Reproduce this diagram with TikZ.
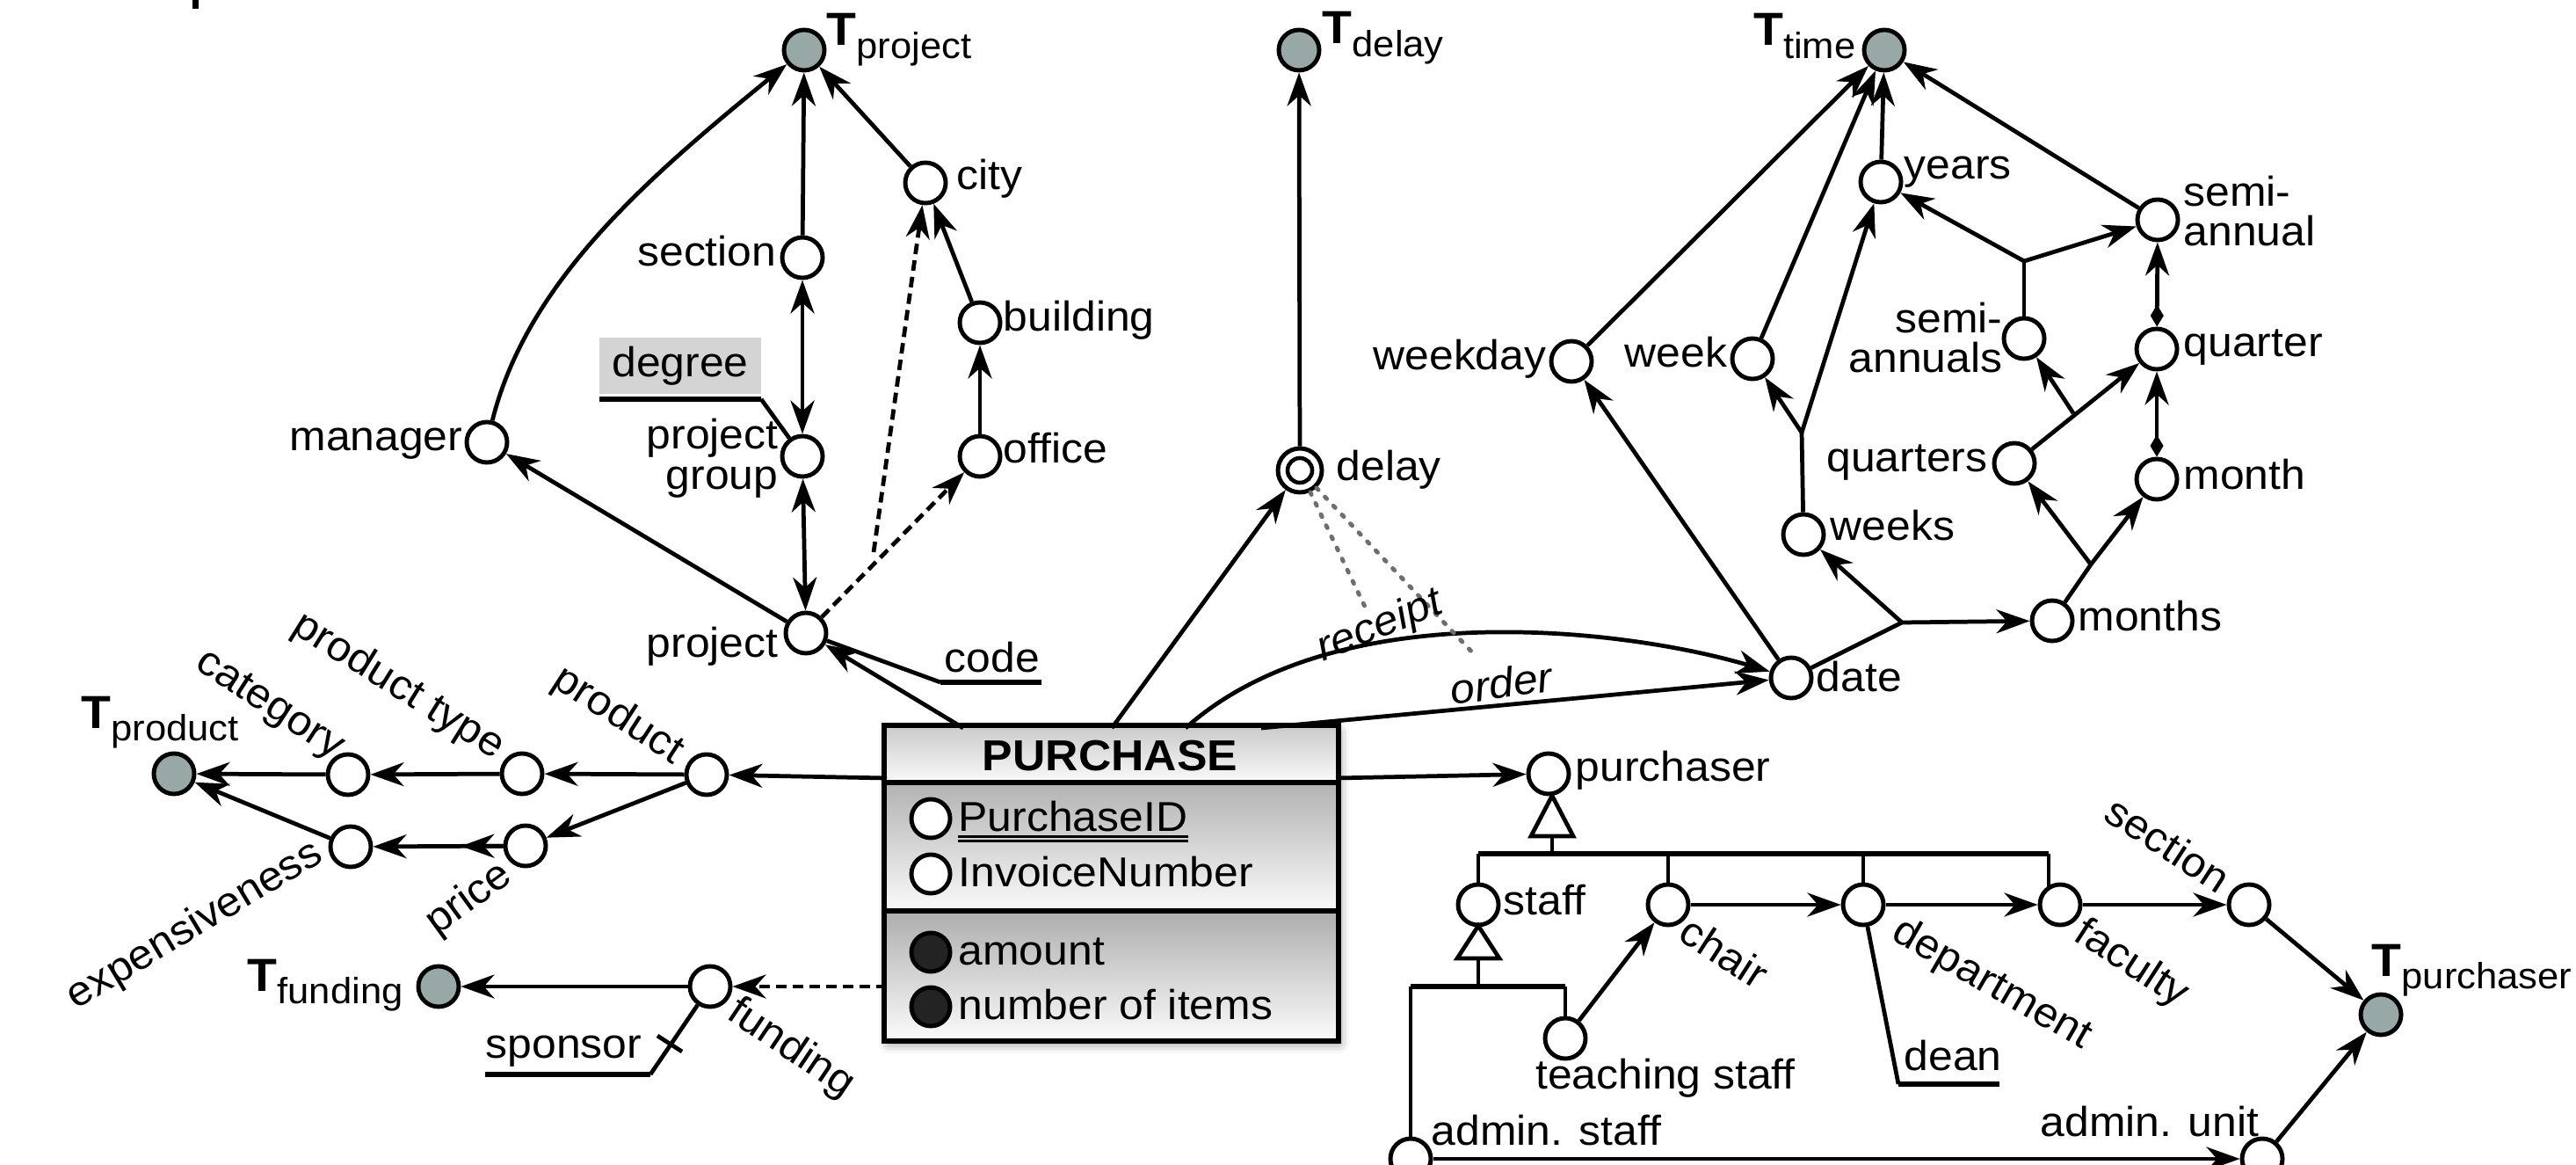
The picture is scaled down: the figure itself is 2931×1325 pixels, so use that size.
\documentclass[tikz,border=0pt]{standalone}
\usepackage{fontspec}
\setmainfont{Liberation Sans}[FakeStretch=1.05]
\usetikzlibrary{arrows.meta,shadows.blur,calc}
\definecolor{tgray}{RGB}{152,168,166}
\definecolor{dkfill}{RGB}{35,35,35}
\definecolor{dotgray}{RGB}{110,110,110}
\newcommand{\myfs}{\fontsize{13.5}{13}\selectfont}
\newcommand{\Tsub}[1]{{\fontsize{15}{15}\selectfont\bfseries T}{\fontsize{11.8}{13}\selectfont\raisebox{-0.35em}{#1}}}
\begin{document}
\begin{tikzpicture}[x=0.01cm,y=-0.01cm,
  font=\myfs,
  att/.style={circle,draw,line width=1.4pt,minimum size=0.46cm,inner sep=0pt,fill=white},
  tnode/.style={att,fill=tgray},
  ln/.style={line width=1.35pt},
  arr/.style={ln,-{Stealth[length=0.38cm,width=0.27cm,inset=0.12cm]}},
  barr/.style={ln,{Stealth[length=0.38cm,width=0.27cm,inset=0.12cm]}-{Stealth[length=0.38cm,width=0.27cm,inset=0.12cm]}},
  dsh/.style={arr,dash pattern=on 0.12cm off 0.07cm},
  dmd/.style={ln,{Diamond[length=0.25cm,width=0.15cm]}-{Stealth[length=0.38cm,width=0.27cm,inset=0.12cm]}},
  dotln/.style={line width=1.4pt,dotgray,line cap=round,dash pattern=on 0.03cm off 0.11cm},
  lbl/.style={inner sep=0pt},
  thk/.style={line width=1.8pt},
]
\useasboundingbox (0,0) rectangle (2931,1325);
\clip (0,0) rectangle (2931,1325);
\fill (219,0) rectangle (226,10);

% ---------------- PURCHASE box ----------------
\node[draw,line width=1.7pt,minimum width=5.11cm,minimum height=3.53cm,inner sep=0pt,fill=white,
  blur shadow={shadow xshift=0.03cm,shadow yshift=-0.05cm,shadow blur radius=0.12cm,shadow opacity=50}] (P) at (1264.5,1004.5) {};
\shade[top color=black!20,bottom color=black!2] (1009,828) rectangle (1520,890);
\shade[top color=black!30,bottom color=black!2] (1009,890) rectangle (1520,1036);
\shade[top color=black!32,bottom color=black!2] (1009,1036) rectangle (1520,1181);
\draw[line width=1.7pt] (P.north west) rectangle (P.south east);
\draw[line width=1.7pt] (1009,890) -- (1520,890);
\draw[line width=1.7pt] (1009,1036) -- (1520,1036);
\node[lbl,font=\fontsize{14}{15}\selectfont\bfseries] (Ptitle) at (1263,860) {PURCHASE};
\node[att,minimum size=0.44cm] (cPid) at (1059,931) {};
\node[lbl,anchor=mid west] (tPid) at (1090,936) {PurchaseID};
\draw[line width=0.7pt] ($(tPid.base west)+(0,6)$) -- ($(tPid.base east)+(0,6)$);
\draw[line width=0.7pt] ($(tPid.base west)+(0,11)$) -- ($(tPid.base east)+(0,11)$);
\node[att,minimum size=0.44cm] (cInv) at (1059,994) {};
\node[lbl,anchor=mid west] (tInv) at (1090,999) {InvoiceNumber};
\node[att,minimum size=0.44cm,fill=dkfill] (cAmt) at (1059,1083) {};
\node[lbl,anchor=mid west] (tAmt) at (1090,1088) {amount};
\node[att,minimum size=0.44cm,fill=dkfill] (cNum) at (1059,1145) {};
\node[lbl,anchor=mid west] (tNum) at (1090,1150) {number of items};
\coordinate (Pt1) at (1096,828);
\coordinate (Pt2) at (1265,828);
\coordinate (Pt3) at (1349,828);
\coordinate (Pt4) at (1435,828);
\coordinate (Pl1) at (1009,885);
\coordinate (Pl2) at (1009,1122);
\coordinate (Pr1) at (1520,885);

% ---------------- project hierarchy ----------------
\node[tnode] (Tproj) at (915,57) {};
\node[att] (sect) at (913,293) {};
\node[att] (pgrp) at (913,519) {};
\node[att] (mgr) at (554,503) {};
\node[att] (proj) at (917,720) {};
\node[att] (city) at (1053,208) {};
\node[att] (bldg) at (1115,367) {};
\node[att] (office) at (1115,519) {};
\node[lbl,anchor=base west] (lTproj) at (940,52) {\Tsub{project}};
\node[lbl,anchor=mid east] (lsect) at (884,293) {section};
\node[lbl,anchor=east,align=right] (lpgrp) at (886,521) {project\\group};
\node[lbl,anchor=mid east] (lmgr) at (527,503) {manager};
\node[lbl,anchor=mid east] (lproj) at (886,738) {project};
\node[lbl,anchor=mid west] (lcity) at (1088,206) {city};
\node[lbl,anchor=mid west] (lbldg) at (1141,367) {building};
\node[lbl,anchor=mid west] (loffice) at (1141,517) {office};
\node[lbl,fill=black!17,minimum width=1.84cm,minimum height=0.63cm] (deg) at (774,416) {degree};
\coordinate (degL) at (682,454);
\coordinate (degR) at (866,454);
\draw[thk] (degL) -- (degR);
\draw[ln] (degR) -- (pgrp);
\coordinate (codeL) at (1070,776);
\coordinate (codeR) at (1185,776);
\draw[ln] (proj) -- (codeL);
\draw[thk] (codeL) -- (codeR);
\node[lbl,anchor=base west] (lcode) at (1074,764) {code};
\draw[arr] (sect) -- (Tproj);
\draw[barr] (sect) -- (pgrp);
\draw[barr] (pgrp) -- (proj);
\draw[arr] (proj) -- (mgr);
\draw[arr] (mgr) .. controls (600,320) and (736,203) .. (Tproj);
\draw[arr] (city) -- (Tproj);
\draw[arr] (bldg) -- (city);
\draw[arr] (office) -- (bldg);
\coordinate (jdash) at (994,628);
\draw[dsh] (proj) -- (office);
\draw[dsh] (jdash) -- (city);
\draw[arr] (Pt1) -- (proj);

% ---------------- delay ----------------
\node[tnode] (Tdelay) at (1478,57) {};
\node[att,minimum size=0.5cm] (delay) at (1479,535) {};
\draw[line width=1.3pt] (delay.center) circle[radius=0.14cm];
\node[lbl,anchor=base west] (lTdelay) at (1504,50) {\Tsub{delay}};
\node[lbl,anchor=mid west] (ldelay) at (1520,537) {delay};
\draw[arr] (delay) -- (Tdelay);
\draw[arr] (Pt2) -- (delay);

% ---------------- time ----------------
\node[tnode] (Ttime) at (2144,57) {};
\node[att] (wkday) at (1788,411) {};
\node[att] (week) at (1994,408) {};
\node[att] (years) at (2140,207) {};
\node[att] (sannual) at (2455,250) {};
\node[att] (sannuals) at (2303,385) {};
\node[att] (quarter) at (2454,397) {};
\node[att] (quarters) at (2292,527) {};
\node[att] (month) at (2454,545) {};
\node[att] (weeks) at (2052,608) {};
\node[att] (months) at (2335,706) {};
\node[att] (date) at (2038,771) {};
\node[lbl,anchor=base east] (lTtime) at (2112,52) {\Tsub{time}};
\node[lbl,anchor=mid east] (lwkday) at (1760,411) {weekday};
\node[lbl,anchor=mid east] (lweek) at (1966,408) {week};
\node[lbl,anchor=mid west] (lyears) at (2166,194) {years};
\node[lbl,anchor=west,align=left] (lsannual) at (2484,240) {semi-\\annual};
\node[lbl,anchor=east,align=right] (lsannuals) at (2279,384) {semi-\\annuals};
\node[lbl,anchor=mid west] (lquarter) at (2484,396) {quarter};
\node[lbl,anchor=mid east] (lquarters) at (2262,527) {quarters};
\node[lbl,anchor=mid west] (lmonth) at (2484,547) {month};
\node[lbl,anchor=mid west] (lweeks) at (2082,605) {weeks};
\node[lbl,anchor=mid west] (lmonths) at (2364,708) {months};
\node[lbl,anchor=mid west] (ldate) at (2066,777) {date};
\coordinate (jW) at (2050,492);
\coordinate (jSA) at (2303,297);
\coordinate (jQ) at (2359,470);
\coordinate (jM) at (2379,642);
\coordinate (jD) at (2164,708);
\draw[arr] (wkday) -- (Ttime);
\draw[arr] (week) -- (Ttime);
\draw[arr] (years) -- (Ttime);
\draw[arr] (sannual) -- (Ttime);
\draw[ln] (weeks) -- (jW);
\draw[arr] (jW) -- (week);
\draw[arr] (jW) -- (years);
\draw[ln] (sannuals) -- (jSA);
\draw[arr] (jSA) -- (years);
\draw[arr] (jSA) -- (sannual);
\draw[dmd] (quarter) -- (sannual);
\draw[dmd] (month) -- (quarter);
\draw[arr] (quarters) -- (quarter);
\draw[arr] (jQ) -- (sannuals);
\draw[ln] (months) -- (jM);
\draw[arr] (jM) -- (quarters);
\draw[arr] (jM) -- (month);
\draw[ln] (date) -- (jD);
\draw[arr] (jD) -- (months);
\draw[arr] (jD) -- (weeks);
\draw[arr] (date) -- (wkday);
\draw[arr] (Pt3) .. controls (1520,675) and (1850,715) .. (date);
\draw[arr] (Pt4) -- (date);
\coordinate (rc1) at (1553,690);
\coordinate (rc2) at (1678,745);
\draw[dotln] (delay) -- (rc1);
\draw[dotln] (delay) -- (rc2);
\node[lbl,font=\myfs\itshape,rotate=22] (lreceipt) at (1570,713) {receipt};
\node[lbl,font=\myfs\itshape,rotate=8] (lorder) at (1708,777) {order};

% ---------------- product ----------------
\node[att] (prod) at (804,881) {};
\node[att] (ptype) at (594,880) {};
\node[att] (categ) at (396,881) {};
\node[tnode] (Tprod) at (198,880) {};
\node[att] (price) at (598,962) {};
\node[att] (expens) at (399,963) {};
\node[lbl,anchor=base west] (lTprod) at (92,828) {\Tsub{product}};
\node[lbl,rotate=-33] (lcateg) at (306,803) {category};
\node[lbl,rotate=-32] (lptype) at (453,781) {product type};
\node[lbl,rotate=-33] (lprod) at (703,814) {product};
\node[lbl,rotate=31] (lexpens) at (222,1053) {expensiveness};
\node[lbl,rotate=36] (lprice) at (534,1023) {price};
\draw[arr] (Pl1) -- (prod);
\draw[arr] (prod) -- (ptype);
\draw[arr] (ptype) -- (categ);
\draw[arr] (categ) -- (Tprod);
\draw[arr] (prod) -- (price);
\draw[arr] (price) -- (expens);
\draw[arr] (price) -- ($(price)!0.37!(expens)$);
\draw[arr] (expens) -- (Tprod);

% ---------------- funding ----------------
\node[att] (fund) at (808,1122) {};
\node[tnode] (Tfund) at (499,1122) {};
\node[lbl,anchor=base west] (lTfund) at (281,1127) {\Tsub{funding}};
\node[lbl,rotate=-34] (lfund) at (900,1193) {funding};
\node[lbl,anchor=base west] (lspons) at (552,1203) {sponsor};
\draw[arr] (fund) -- (Tfund);
\draw[dsh] (Pl2) -- (fund);
\coordinate (spA) at (740,1222);
\coordinate (spB) at (552,1222);
\draw[ln] (fund) -- (spA);
\draw[thk] (spA) -- (spB);
\draw[ln] (748,1178) -- (776,1196);

% ---------------- purchaser ----------------
\node[att] (purch) at (1762,880) {};
\node[att] (staff) at (1682,1029) {};
\node[att] (chair) at (1898,1029) {};
\node[att] (dept) at (2120,1029) {};
\node[att] (fac) at (2344,1029) {};
\node[att] (sect2) at (2559,1029) {};
\node[tnode] (Tpurch) at (2709,1154) {};
\node[att] (adunit) at (2574,1318) {};
\node[att] (adstaff) at (1605,1318) {};
\node[att] (teach) at (1781,1181) {};
\node[lbl,anchor=mid west] (lpurch) at (1792,879) {purchaser};
\node[lbl,anchor=mid west] (lstaff) at (1710,1031) {staff};
\node[lbl,anchor=base] (lteach) at (1895,1238) {teaching staff};
\node[lbl,anchor=base west] (ladstaff) at (1628,1302) {admin. staff};
\node[lbl,anchor=base west] (ladunit) at (2321,1292) {admin. unit};
\node[lbl,anchor=base west] (ldean) at (2166,1217) {dean};
\node[lbl,rotate=-33] (lchair) at (1962,1083) {chair};
\node[lbl,rotate=-30] (ldept) at (2266,1120) {department};
\node[lbl,rotate=-33] (lfac) at (2425,1097) {faculty};
\node[lbl,rotate=-33] (lsect2) at (2467,960) {section};
\node[lbl,anchor=base west] (lTpurch) at (2698,1110) {\Tsub{purchaser}};
\draw[arr] (Pr1) -- (purch);
\draw[ln,fill=white] (1766,905) -- (1742,951) -- (1790,951) -- cycle;
\draw[ln] (1766,951) -- (1766,971);
\draw[line width=1.5pt] (1682,971) -- (2331,971);
\draw[ln] (1682,971) -- (staff);
\draw[ln] (1898,971) -- (chair);
\draw[ln] (2120,971) -- (dept);
\draw[ln] (2331,971) -- (2331,1010);
\draw[ln,fill=white] (1682,1053) -- (1658,1090) -- (1706,1090) -- cycle;
\draw[ln] (1682,1090) -- (1682,1122);
\draw[line width=1.5pt] (1605,1122) -- (1781,1122);
\draw[ln] (1605,1122) -- (adstaff);
\draw[ln] (1781,1122) -- (teach);
\draw[arr] (teach) -- (chair);
\draw[arr] (chair) -- (dept);
\draw[arr] (dept) -- (fac);
\draw[arr] (fac) -- (sect2);
\draw[arr] (sect2) -- (Tpurch);
\draw[arr] (adunit) -- (Tpurch);
\draw[arr] (adstaff) -- (adunit);
\coordinate (deanA) at (2160,1233);
\coordinate (deanB) at (2275,1233);
\draw[ln] (dept) -- (deanA);
\draw[thk] (deanA) -- (deanB);
\end{tikzpicture}
\end{document}
